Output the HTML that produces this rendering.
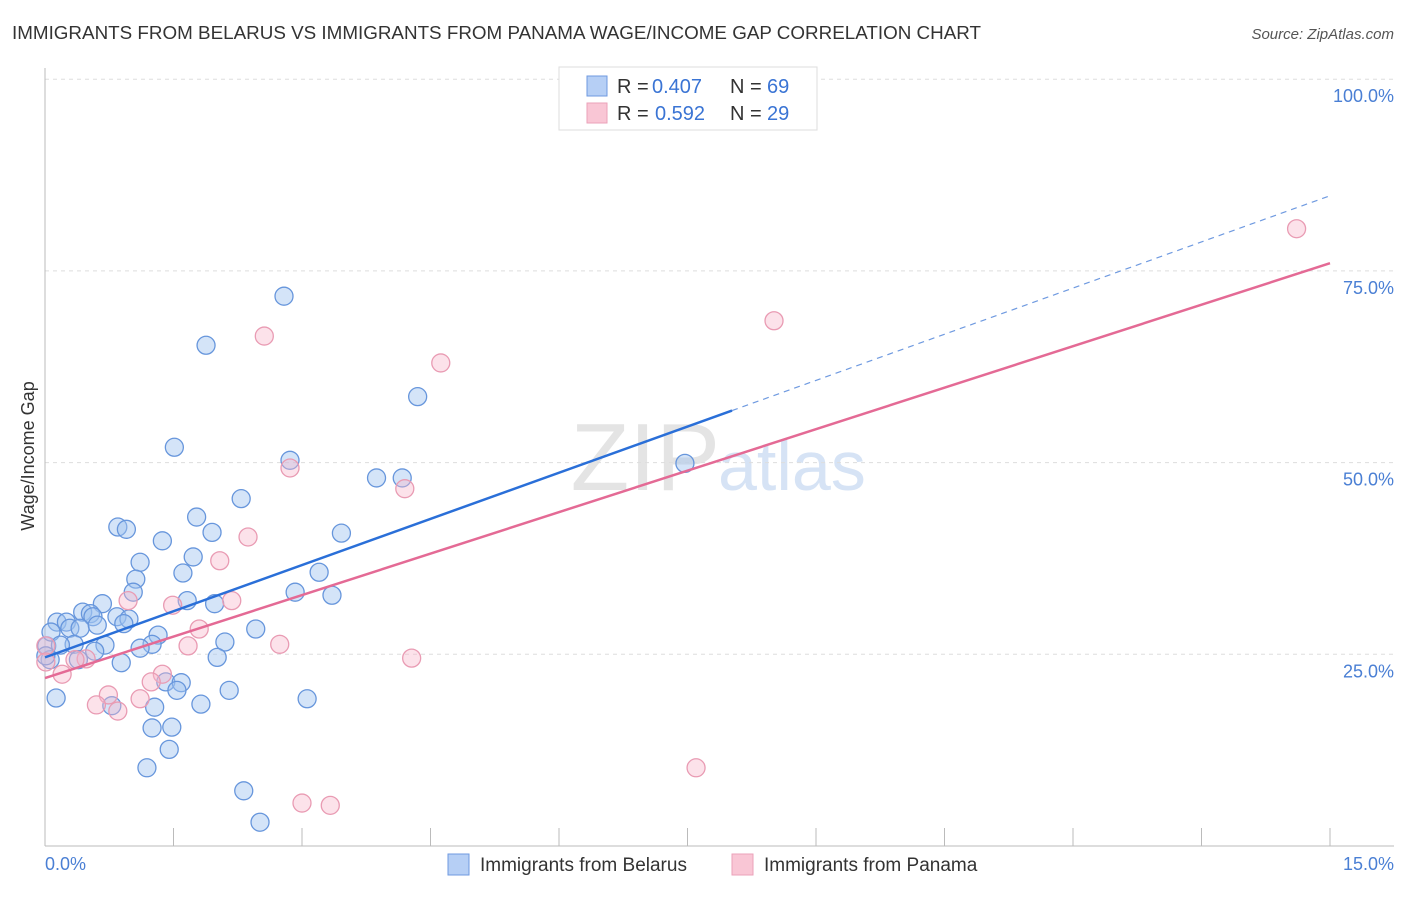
<!DOCTYPE html>
<html><head><meta charset="utf-8"><style>
body{margin:0;background:#fff;font-family:"Liberation Sans",sans-serif;}
svg text{font-family:"Liberation Sans",sans-serif;}
</style></head><body>
<svg id="c" width="1406" height="892" xmlns="http://www.w3.org/2000/svg">
<text x="12" y="39" font-size="18" fill="#333" textLength="969" lengthAdjust="spacingAndGlyphs">IMMIGRANTS FROM BELARUS VS IMMIGRANTS FROM PANAMA WAGE/INCOME GAP CORRELATION CHART</text>
<text x="1394" y="39" font-size="15" fill="#555" text-anchor="end" font-style="italic">Source: ZipAtlas.com</text>
<text x="720" y="490" font-size="96" fill="#e4e4e4" text-anchor="end" font-family="Liberation Serif">ZIP</text>
<text x="718" y="490" font-size="70" fill="#d6e3f5">atlas</text>
<g id="grid"></g>
<g id="axes"></g>
<g id="pts"></g>
<g id="lines"></g>
<text transform="translate(34,456) rotate(-90)" font-size="18" fill="#333" text-anchor="middle">Wage/Income Gap</text>
<text x="45" y="870" font-size="18" fill="#4a7fd4">0.0%</text>
<text x="1394" y="870" font-size="18" fill="#4a7fd4" text-anchor="end">15.0%</text>
<g>
<rect x="559" y="67" width="258" height="63" fill="#fff" stroke="#ddd"/>
<rect x="587" y="76" width="20" height="20" fill="#b6cff5" stroke="#6f9ae0"/>
<rect x="587" y="103" width="20" height="20" fill="#f9c6d5" stroke="#eba2b9"/>
<text x="617" y="93" font-size="20" fill="#333">R =</text>
<text x="652" y="93" font-size="20" fill="#3a74d4">0.407</text>
<text x="730" y="93" font-size="20" fill="#333">N =</text>
<text x="767" y="93" font-size="20" fill="#3a74d4">69</text>
<text x="617" y="120" font-size="20" fill="#333">R =</text>
<text x="655" y="120" font-size="20" fill="#3a74d4">0.592</text>
<text x="730" y="120" font-size="20" fill="#333">N =</text>
<text x="767" y="120" font-size="20" fill="#3a74d4">29</text>
</g>
<g>
<rect x="448" y="854" width="21" height="21" fill="#b6cff5" stroke="#6f9ae0"/>
<text x="480" y="871" font-size="19" fill="#333">Immigrants from Belarus</text>
<rect x="732" y="854" width="21" height="21" fill="#f9c6d5" stroke="#eba2b9"/>
<text x="764" y="871" font-size="19" fill="#333">Immigrants from Panama</text>
</g>
</svg>
<script>
const yTicks=[25,50,75,100];
const yTickLabels=["25.0%","50.0%","75.0%","100.0%"];
const xTicks=[0,1.5,3,4.5,6,7.5,9,10.5,12,13.5,15];
const belarusX=[2.79,1.88,4.35,1.51,2.86,3.87,4.17,7.47,2.29,1.77,0.85,0.95,1.95,3.46,1.37,1.11,1.73,1.06,1.61,3.20,1.03,2.92,3.35,1.66,0.67,1.98,0.44,0.53,0.14,0.25,0.84,0.98,0.56,0.29,0.41,0.61,0.92,2.46,1.32,2.10,1.25,0.70,0.34,1.11,0.02,0.07,2.01,0.39,0.89,1.41,1.59,1.54,2.15,0.13,3.06,0.78,1.28,1.82,1.25,1.48,1.45,1.19,2.32,2.51,0.06,0.58,0.18,0.01];
const belarusY=[71.7,65.3,58.6,52.0,50.3,48.0,48.0,49.9,45.3,42.9,41.6,41.3,40.9,40.8,39.8,37.0,37.7,34.8,35.6,35.7,33.1,33.1,32.7,32.0,31.6,31.6,30.5,30.3,29.2,29.2,29.9,29.6,29.9,28.4,28.4,28.8,29.0,28.3,27.5,26.6,26.3,26.2,26.3,25.8,26.1,27.9,24.6,24.3,23.9,21.4,21.3,20.3,20.3,19.3,19.2,18.3,18.1,18.5,15.4,15.5,12.6,10.2,7.2,3.1,24.3,25.4,26.2,24.8];
const panamaX=[14.61,8.51,2.56,4.62,2.86,4.20,2.37,2.04,0.97,2.18,1.49,1.80,1.67,2.74,0.01,4.28,0.48,0.35,1.37,1.24,0.74,0.60,0.85,1.11,0.20,7.60,3.00,3.33,0.01];
const panamaY=[80.5,68.5,66.5,63.0,49.3,46.6,40.3,37.2,32.0,32.0,31.4,28.3,26.1,26.3,26.1,24.5,24.4,24.3,22.4,21.4,19.7,18.4,17.6,19.2,22.4,10.2,5.6,5.3,24.0];
const belarusTrend=[24.6,84.8];
const belarusSolidEnd=8.02;
const panamaTrend=[21.9,76.0];

const NS="http://www.w3.org/2000/svg";
const X=v=>45+v*(1330-45)/15;
const Y=v=>846-v*7.668;
function mk(tag,attrs,parent){const e=document.createElementNS(NS,tag);for(const k in attrs)e.setAttribute(k,attrs[k]);parent.appendChild(e);return e;}
const grid=document.getElementById('grid'),axes=document.getElementById('axes'),pts=document.getElementById('pts'),lines=document.getElementById('lines');
yTicks.forEach((t,i)=>{
 const l=mk('line',{x1:45,x2:1394,y1:Y(t),y2:Y(t),stroke:'#ddd','stroke-dasharray':'4,4'},grid);
 
 
 const tx=mk('text',{x:1394,y:Y(t)+23,'font-size':18,fill:'#4a7fd4','text-anchor':'end'},axes);
 tx.textContent=yTickLabels[i];
 
 
});
let a=mk('line',{x1:45,x2:45,y1:68,y2:846,stroke:'#bbb'},axes);


a=mk('line',{x1:45,x2:1394,y1:846,y2:846,stroke:'#bbb'},axes);


xTicks.forEach(t=>{const l=mk('line',{x1:X(t),x2:X(t),y1:828,y2:846,stroke:'#bbb'},axes);
 
 });
function dots(xs,ys,fill,stroke,name){xs.forEach((x,i)=>{const c=mk('circle',{cx:X(x),cy:Y(ys[i]),r:9,fill:fill,stroke:stroke,'stroke-width':1.3},pts);
 
 });}
dots(belarusX,belarusY,'rgba(160,195,240,0.45)','#6796dc','belarus-point');
dots(panamaX,panamaY,'rgba(248,182,202,0.4)','#e99bb3','panama-point');
const by=x=>belarusTrend[0]+(belarusTrend[1]-belarusTrend[0])*x/15;
let t=mk('line',{x1:X(0),y1:Y(by(0)),x2:X(belarusSolidEnd),y2:Y(by(belarusSolidEnd)),stroke:'#2a6fd8','stroke-width':2.5},lines);


t=mk('line',{x1:X(belarusSolidEnd),y1:Y(by(belarusSolidEnd)),x2:X(15),y2:Y(by(15)),stroke:'#6f9ae0','stroke-width':1.2,'stroke-dasharray':'6,5'},lines);


t=mk('line',{x1:X(0),y1:Y(panamaTrend[0]),x2:X(15),y2:Y(panamaTrend[1]),stroke:'#e46a95','stroke-width':2.5},lines);


</script>
</body></html>
